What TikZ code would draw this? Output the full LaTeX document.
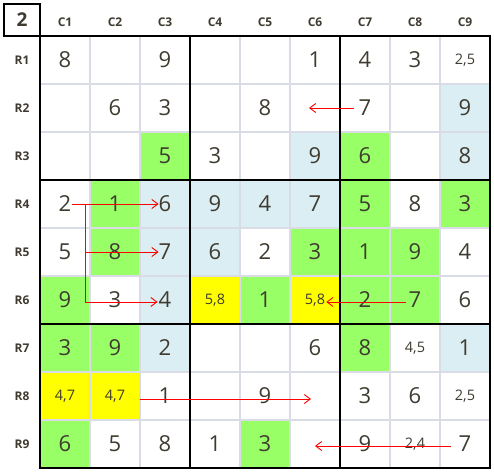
\documentclass[tikz,border=0pt]{standalone}
\usepackage{fontspec}
\setmainfont{Open Sans}
\usetikzlibrary{arrows.meta,calc,positioning}
\definecolor{gr}{HTML}{99FF66}
\definecolor{bl}{HTML}{DAEEF3}
\definecolor{ye}{HTML}{FFFF00}
\definecolor{ink}{HTML}{3F3B30}
\definecolor{gline}{HTML}{D9DCE4}
\tikzstyle{cell}=[minimum width=50pt,minimum height=48pt,inner sep=0pt]
\tikzstyle{digit}=[text=ink,inner sep=0pt,font=\fontsize{22}{22}\selectfont]
\tikzstyle{cand}=[text=ink,inner sep=0pt,font=\fontsize{14.5}{14.5}\selectfont]
\tikzstyle{lbl}=[text=ink,font=\bfseries\fontsize{12}{12}\selectfont]
\tikzstyle{link}=[red,line width=0.9pt,-{Straight Barb[length=6pt,width=9pt]}]

\begin{document}
\begin{tikzpicture}[x=1pt,y=-1pt]
\useasboundingbox (0,0) rectangle (494,472);
\foreach \r in {1,...,9}
  \foreach \c in {1,...,9}
    \node [cell] (c\r\c) at ({15+50*\c},{12+48*\r}) {};
\foreach \rc/\f in {29/bl,33/gr,36/bl,37/gr,39/bl,
    42/gr,43/bl,44/bl,45/bl,46/bl,47/gr,49/gr,
    52/gr,53/bl,54/bl,56/gr,57/gr,58/gr,
    61/gr,63/bl,64/ye,65/gr,66/ye,67/gr,68/gr,
    71/gr,72/gr,73/bl,77/gr,79/bl,81/ye,82/ye,91/gr,95/gr}
  \fill [\f] (c\rc.south west) rectangle (c\rc.north east);
\foreach \i in {1,...,8} {
  \draw [gline,line width=1.8pt] (c1\i.north east) -- (c9\i.south east);
  \draw [gline,line width=1.8pt] (c\i1.south west) -- (c\i9.south east);
}
\foreach \i in {3,6} {
  \draw [line width=2pt] (c1\i.north east) -- (c9\i.south east);
  \draw [line width=2pt] (c\i1.south west) -- (c\i9.south east);
}
\draw [line width=2pt] (c11.north west) rectangle (c99.south east);
\node [draw,line width=2pt,minimum width=36pt,minimum height=32pt,text=ink,
  font=\bfseries\fontsize{19}{19}\selectfont] (corner) at (22,20) {2};
\foreach \i in {1,...,9} {
  \node [lbl] (col\i) at ({15+50*\i},22) {C\i};
  \node [lbl] (row\i) at (22,{12+48*\i}) {R\i};
}
\foreach \rc/\t in {11/8,13/9,16/1,17/4,18/3,
    22/6,23/3,25/8,27/7,29/9,33/5,34/3,36/9,37/6,39/8,
    41/2,42/1,43/6,44/9,45/4,46/7,47/5,48/8,49/3,
    51/5,52/8,53/7,54/6,55/2,56/3,57/1,58/9,59/4,
    61/9,62/3,63/4,65/1,67/2,68/7,69/6,
    71/3,72/9,73/2,76/6,77/8,79/1,
    83/1,85/9,87/3,88/6,91/6,92/5,93/8,94/1,95/3,97/9,99/7}
  \node [digit] (d\rc) at (c\rc) {\t};
\foreach \rc/\t in {19/{2,5},64/{5,8},66/{5,8},78/{4,5},
    81/{4,7},82/{4,7},89/{2,5},98/{2,4}}
  \node [cand] (d\rc) at (c\rc) {\t};
\draw [link] ($(d27.west)+(-5,0)$) -- ($(c26)+(-6,0)$);
\draw [link] ($(d41.east)+(1,0)$) -- (d43.west);
\draw [link] ($(c41.east)+(-5,0)$) |- ($(d63.west)+(-1,2)$);
\draw [link] ($(c51.east)+(-5,0)$) -- (d53.west);
\draw [link] ($(d68.west)+(-3,2)$) -- ($(d66.east)+(1,2)$);
\draw [link] ($(c83.west)+(0,3)$) -- ($(c86)+(-4,3)$);
\draw [link] ($(d99.west)+(-8,2)$) -- ($(c96)+(0,2)$);
\end{tikzpicture}
\end{document}
